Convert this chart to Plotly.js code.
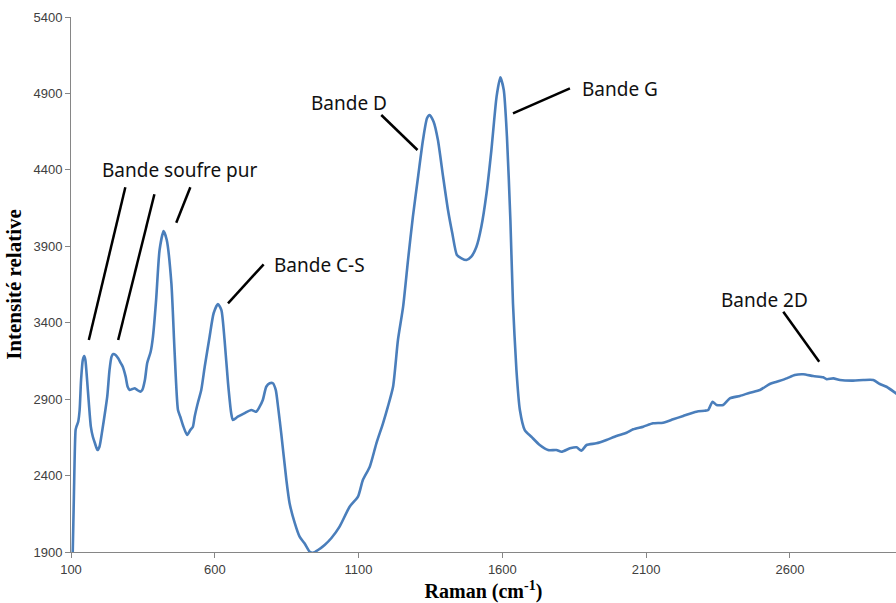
<!DOCTYPE html>
<html>
<head>
<meta charset="utf-8">
<script src="https://cdn.plot.ly/plotly-3.0.1.min.js"></script>
<style>html,body{margin:0;padding:0;background:#fff;}#chart{width:896px;height:603px;}</style>
</head>
<body>
<div id="chart"></div>
<script>
// Raman shift (cm-1)
const ramanShift = [103,106,110,116,119,125,130,135,141,146,150,156,162,169,176,183,192,199,209,218,226,234,241,247,255,264,273,280,290,297,304,313,322,330,342,348,357,365,377,385,396,408,422,433,449,460,472,480,491,504,515,524,530,541,553,565,582,596,611,623,634,646,657,663,680,704,727,744,756,767,779,791,802,812,820,831,849,860,878,895,912,930,941,959,982,1005,1034,1069,1098,1115,1139,1162,1185,1202,1220,1237,1255,1272,1289,1307,1324,1338,1347,1361,1376,1394,1411,1426,1442,1458,1475,1492,1510,1527,1545,1562,1580,1593,1605,1616,1628,1637,1649,1661,1678,1701,1730,1759,1788,1806,1835,1858,1875,1893,1927,1962,1997,2032,2055,2090,2124,2159,2194,2229,2275,2304,2316,2331,2345,2368,2391,2426,2461,2496,2530,2554,2589,2617,2646,2681,2716,2728,2751,2774,2820,2855,2890,2913,2936,2969,2990];
// Relative intensity
const intensity = [1750,1900,2262,2698,2720,2752,2829,3025,3156,3182,3156,3025,2875,2720,2654,2613,2567,2589,2698,2809,2916,3091,3178,3195,3189,3167,3136,3112,3047,2981,2960,2966,2971,2960,2949,2960,3025,3136,3210,3308,3549,3876,4000,3941,3660,3221,2829,2785,2720,2665,2698,2720,2785,2875,2960,3112,3308,3462,3522,3483,3287,3006,2809,2764,2785,2809,2829,2818,2851,2894,2981,3004,3004,2960,2851,2678,2371,2221,2090,2000,1957,1902,1895,1913,1946,1990,2066,2196,2262,2371,2458,2611,2742,2851,2981,3287,3505,3810,4094,4355,4595,4737,4759,4715,4595,4355,4137,3985,3843,3821,3810,3832,3897,4028,4247,4530,4879,5005,4922,4617,4072,3527,3091,2829,2698,2654,2600,2567,2567,2556,2578,2585,2563,2600,2611,2633,2659,2680,2703,2720,2742,2746,2768,2790,2818,2824,2829,2883,2862,2862,2905,2921,2942,2960,2999,3014,3036,3058,3063,3051,3043,3030,3036,3025,3021,3025,3025,2999,2981,2938,2910];

const xTicks = [100,600,1100,1600,2100,2600];
const yTicks = [1900,2400,2900,3400,3900,4400,4900,5400];

// Annotation labels (text, x, y)
const labelText = ["Bande soufre pur","Bande C-S","Bande D","Bande G","Bande 2D"];
const labelX = [478,965,1067,2008,2510];
const labelY = [4399,3777,4837,4929,3549];
// Leader lines: start (x0,y0) -> end (x1,y1)
const leadX0 = [289,390,515,770,1179,1835,2577];
const leadY0 = [4286,4240,4286,3782,4759,4933,3472];
const leadX1 = [162,264,466,646,1305,1637,2702];
const leadY1 = [3287,3287,4054,3527,4530,4770,3145];

const shapes = leadX0.map((x0,i)=>({
  type:'line', xref:'x', yref:'y',
  x0:x0, y0:leadY0[i], x1:leadX1[i], y1:leadY1[i],
  line:{color:'#000', width:2.5}
}));
const annotations = labelText.map((t,i)=>({
  text:t, x:labelX[i], y:labelY[i], xref:'x', yref:'y',
  showarrow:false, font:{family:'Noto Sans, Open Sans, sans-serif', size:19, color:'#111'}
}));

const trace = {
  x: ramanShift, y: intensity, type:'scatter', mode:'lines',
  line:{color:'#4a7ebb', width:2.6, shape:'spline', smoothing:0.6},
  hoverinfo:'skip'
};

const layout = {
  width:896, height:603,
  margin:{l:71, r:0, t:17, b:51},
  paper_bgcolor:'#fff', plot_bgcolor:'#fff',
  showlegend:false,
  xaxis:{
    range:[100,2969], tickvals:xTicks, ticktext:xTicks.map(String),
    showgrid:false, zeroline:false, showline:true, linecolor:'#868686', linewidth:1,
    ticks:'outside', ticklen:5, tickcolor:'#868686',
    tickfont:{family:'Liberation Sans Narrow, Arial Narrow, Liberation Sans, sans-serif', size:13, color:'#404040'},
    title:{text:'Raman (cm<sup>-1</sup>)', standoff:10,
      font:{family:'Liberation Serif, Times New Roman, serif', size:20, color:'#000', weight:'bold'}}
  },
  yaxis:{
    range:[1900,5400], tickvals:yTicks, ticktext:yTicks.map(String),
    showgrid:false, zeroline:false, showline:true, linecolor:'#868686', linewidth:1,
    ticks:'outside', ticklen:5, tickcolor:'#868686',
    tickfont:{family:'Liberation Sans Narrow, Arial Narrow, Liberation Sans, sans-serif', size:13, color:'#404040'},
    title:{text:'Intensité relative', standoff:6,
      font:{family:'Liberation Serif, Times New Roman, serif', size:21, color:'#000', weight:'bold'}}
  },
  shapes:shapes,
  annotations:annotations
};

Plotly.newPlot('chart',[trace],layout,{staticPlot:true, displayModeBar:false});
</script>
</body>
</html>
